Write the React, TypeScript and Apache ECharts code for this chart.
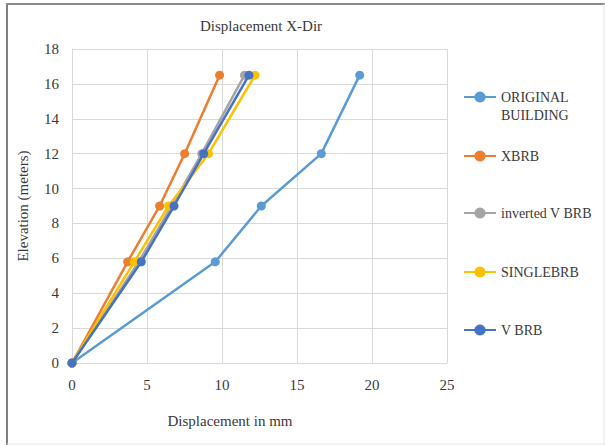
import React, { useEffect, useRef } from "react";
import * as echarts from "echarts";

const elevations = [0, 5.8, 9, 12, 16.5];
const originalBuilding = [0, 9.55, 12.62, 16.62, 19.18];
const xbrb = [0, 3.71, 5.84, 7.51, 9.84];
const invertedVBrb = [0, 4.45, 6.65, 8.65, 11.5];
const singleBrb = [0, 4.15, 6.44, 9.1, 12.2];
const vBrb = [0, 4.62, 6.8, 8.78, 11.8];

const seriesNames = ["ORIGINAL BUILDING", "XBRB", "inverted V BRB", "SINGLEBRB", "V BRB"];
const seriesColors = ["#5B9BD5", "#ED7D31", "#A5A5A5", "#FFC000", "#4472C4"];
const seriesValues = [originalBuilding, xbrb, invertedVBrb, singleBrb, vBrb];
const legendTops = [70, 147, 204, 263, 321];

const FONT = "Liberation Serif";
const TEXT = "#3a3a3a";

export default function App() {
  const ref = useRef<HTMLDivElement>(null);
  useEffect(() => {
    if (!ref.current) return;
    const chart = echarts.init(ref.current, null, { renderer: "svg" });
    const series = seriesNames.map((name, i) => ({
      name,
      type: "line",
      data: seriesValues[i].map((x, j) => [x, elevations[j]]),
      symbol: "circle",
      symbolSize: 9,
      lineStyle: { width: 2.5, color: seriesColors[i] },
      itemStyle: { color: seriesColors[i] },
      z: 2 + i,
    }));
    const legends = seriesNames.map((name, i) => ({
      data: [name],
      orient: "vertical",
      left: 463,
      top: legendTops[i],
      padding: 0,
      itemWidth: 32,
      itemHeight: 14,
      itemGap: 0,
      formatter: i === 0 ? () => " \nORIGINAL\nBUILDING" : undefined,
      textStyle: {
        fontFamily: FONT,
        fontSize: 14,
        color: TEXT,
        lineHeight: 18,
      },
    }));
    chart.setOption({
      animation: false,
      backgroundColor: "#ffffff",
      title: {
        text: "Displacement X-Dir",
        left: 200,
        top: 18,
        padding: 0,
        textStyle: { fontFamily: FONT, fontSize: 15, fontWeight: "normal", color: TEXT },
      },
      legend: legends,
      grid: { left: 72, right: 158, top: 49, bottom: 82 },
      xAxis: {
        type: "value",
        min: 0,
        max: 25,
        interval: 5,
        name: "Displacement in mm",
        nameLocation: "middle",
        nameGap: 50,
        nameTextStyle: { fontFamily: FONT, fontSize: 15, color: TEXT, padding: [0, 59, 0, 0] },
        axisLine: { show: true, lineStyle: { color: "#d9d9d9", width: 1 } },
        axisTick: { show: false },
        axisLabel: { fontFamily: FONT, fontSize: 15, color: TEXT, margin: 14 },
        splitLine: { show: true, lineStyle: { color: "#d9d9d9", width: 1 } },
      },
      yAxis: {
        type: "value",
        min: 0,
        max: 18,
        interval: 2,
        name: "Elevation (meters)",
        nameLocation: "middle",
        nameGap: 42,
        nameTextStyle: { fontFamily: FONT, fontSize: 15, color: TEXT },
        axisLine: { show: true, lineStyle: { color: "#d9d9d9", width: 1 } },
        axisTick: { show: false },
        axisLabel: { fontFamily: FONT, fontSize: 15, color: TEXT, margin: 13 },
        splitLine: { show: true, lineStyle: { color: "#d9d9d9", width: 1 } },
      },
      graphic: [
        { type: "line", shape: { x1: 7, y1: 3, x2: 7, y2: 445 }, style: { stroke: "#7f7f7f", lineWidth: 2 } },
        { type: "line", shape: { x1: 6, y1: 4, x2: 605, y2: 4 }, style: { stroke: "#8a8a8a", lineWidth: 2 } },
        { type: "line", shape: { x1: 604, y1: 4, x2: 604, y2: 445 }, style: { stroke: "#e6e6e6", lineWidth: 1 } },
        { type: "line", shape: { x1: 7, y1: 444, x2: 605, y2: 444 }, style: { stroke: "#e6e6e6", lineWidth: 1 } },
      ],
      series,
    });
    return () => chart.dispose();
  }, []);
  return (
    <div
      ref={ref}
      style={{ position: "fixed", left: 0, top: 0, width: 605, height: 445, background: "#fff" }}
    />
  );
}
